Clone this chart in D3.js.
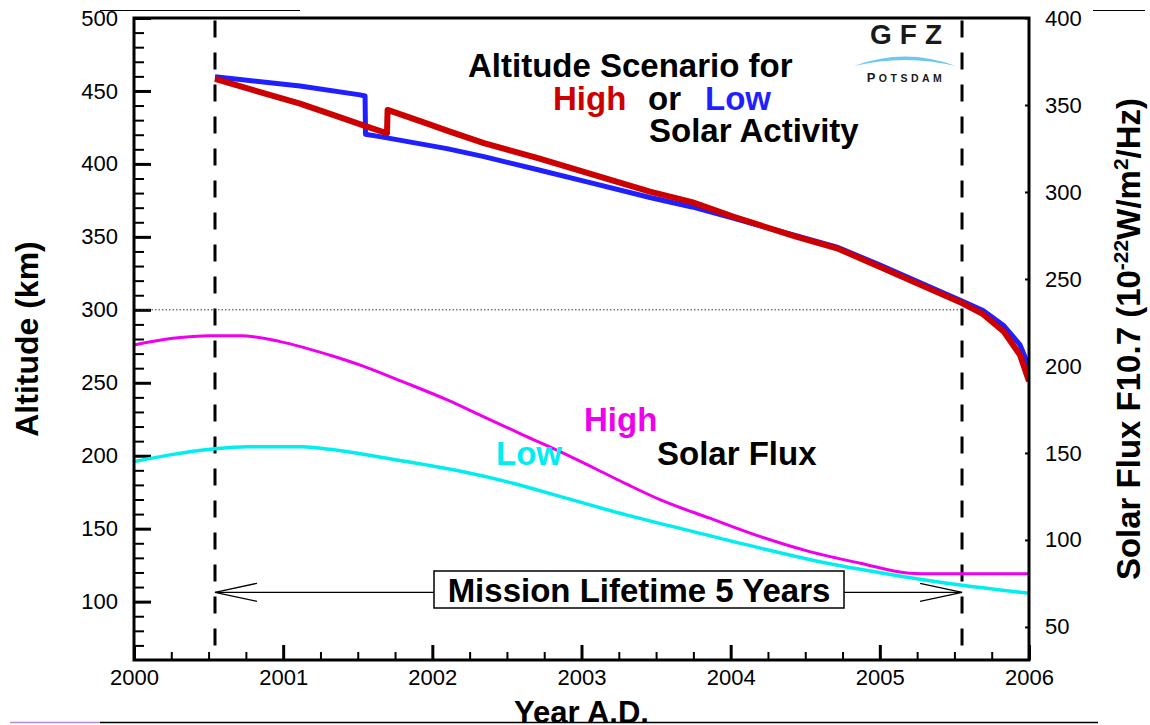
<!DOCTYPE html>
<html>
<head>
<meta charset="utf-8">
<script src="https://cdn.jsdelivr.net/npm/d3@7"></script>
<style>
  body { margin: 0; background: #fff; }
  svg { display: block; font-family: "Liberation Sans", Arial, Helvetica, sans-serif; }
</style>
</head>
<body>
<div id="chart"></div>
<script>
// altitude scenarios [year, km]
var altLow = [
  [2000.543, 459.8], [2001.113, 453.4], [2001.515, 447.3], [2001.549, 446.5],
  [2001.552, 420.3], [2001.649, 418.7], [2002.098, 410.5], [2002.346, 405.0],
  [2002.708, 396.0], [2003.044, 387.5], [2003.459, 377.0], [2003.741, 370.5],
  [2004.016, 362.8], [2004.438, 350.8], [2004.713, 343.0], [2004.994, 331.0],
  [2005.272, 318.5], [2005.551, 306.0], [2005.692, 299.5], [2005.832, 289.0],
  [2005.940, 276.0], [2006.0, 261.0]
];
var altHigh = [
  [2000.543, 458.2], [2001.113, 441.3], [2001.334, 433.6], [2001.562, 425.6],
  [2001.696, 421.0], [2001.700, 437.0], [2001.928, 429.0], [2002.118, 422.1],
  [2002.346, 414.2], [2002.708, 403.9], [2003.044, 393.6], [2003.459, 381.0],
  [2003.741, 373.8], [2004.016, 363.9], [2004.438, 350.2], [2004.713, 342.2],
  [2004.994, 329.7], [2005.272, 317.1], [2005.551, 304.6], [2005.692, 297.0],
  [2005.832, 285.0], [2005.940, 269.0], [2006.0, 251.0]
];
// solar flux F10.7 [year, sfu]
var fluxHigh = [
  [2000.0, 212.1], [2000.26, 215.9], [2000.51, 217.4], [2000.71, 217.4],
  [2000.98, 214.0], [2001.31, 206.3], [2001.54, 199.8], [2001.80, 191.0],
  [2002.10, 180.5], [2002.32, 171.8], [2002.61, 160.3], [2002.86, 150.6],
  [2003.08, 141.5], [2003.30, 132.2], [2003.53, 123.0], [2003.86, 112.5],
  [2004.20, 101.9], [2004.53, 93.3], [2004.87, 86.6], [2005.20, 80.9],
  [2005.35, 80.6], [2006.0, 80.6]
];
var fluxLow = [
  [2000.0, 145.0], [2000.24, 148.9], [2000.53, 152.3], [2000.76, 153.6],
  [2001.13, 153.6], [2001.31, 152.1], [2001.76, 146.0], [2002.20, 139.3],
  [2002.54, 132.6], [2002.86, 124.9], [2003.30, 114.4], [2003.75, 104.8],
  [2004.20, 95.3], [2004.65, 86.6], [2005.09, 79.9], [2005.54, 74.1],
  [2006.0, 69.4]
];
var missionStart = 2000.543, missionEnd = 2005.551;
var arrowLevel = 106.4;   // km
var refAltitude = 300;    // km, dotted line

var yearTicks = [2000, 2001, 2002, 2003, 2004, 2005, 2006];
var altTicks = [100, 150, 200, 250, 300, 350, 400, 450, 500];
var fluxTicks = [50, 100, 150, 200, 250, 300, 350, 400];

var width = 1150, height = 725;
var pL = 134, pR = 1029, pT = 18, pB = 660;

var svg = d3.select("#chart").append("svg")
  .attr("width", width)
  .attr("height", height);

var x = d3.scaleLinear().domain([2000, 2006]).range([pL, pR]);
var yAlt = d3.scaleLinear().domain([60, 500]).range([pB, pT]);
var yFlux = d3.scaleLinear().domain([31, 400]).range([pB, pT]);

// minor ticks
var yearMinor = d3.range(2000, 2006.01, 0.25).filter(function(d) { return d % 1 !== 0; });
var altMinor = d3.range(70, 500, 10).filter(function(d) { return d % 50 !== 0; });

svg.append("defs").append("clipPath").attr("id", "plot")
  .append("rect").attr("x", pL).attr("y", pT)
  .attr("width", pR - pL).attr("height", pB - pT);

// page border remnants
svg.append("line").attr("x1", 100).attr("x2", 300).attr("y1", 10.5).attr("y2", 10.5)
  .attr("stroke", "#000").attr("stroke-width", 1);
svg.append("line").attr("x1", 1093).attr("x2", 1145).attr("y1", 10.5).attr("y2", 10.5)
  .attr("stroke", "#000").attr("stroke-width", 1);
svg.append("line").attr("x1", 10).attr("x2", 100).attr("y1", 722.5).attr("y2", 722.5)
  .attr("stroke", "#b48ad0").attr("stroke-width", 1.5);
svg.append("line").attr("x1", 100).attr("x2", 1098).attr("y1", 722.5).attr("y2", 722.5)
  .attr("stroke", "#000").attr("stroke-width", 1.5);

// axes
function styleAxis(g, w) {
  g.select(".domain").remove();
  g.selectAll(".tick line").attr("stroke", "#000").attr("stroke-width", w);
  g.selectAll(".tick text").attr("fill", "#000")
    .style("font-size", "22px");
}

svg.append("g").attr("transform", "translate(" + pL + ",0)")
  .call(d3.axisLeft(yAlt).tickValues(altTicks).tickSize(-17).tickPadding(16))
  .call(styleAxis, 3);
svg.append("g").attr("transform", "translate(" + pL + ",0)")
  .call(d3.axisLeft(yAlt).tickValues(altMinor).tickSize(-10).tickFormat(""))
  .call(styleAxis, 2);

svg.append("g").attr("transform", "translate(0," + pB + ")")
  .call(d3.axisBottom(x).tickValues(yearTicks).tickSize(-15).tickPadding(9).tickFormat(d3.format("d")))
  .call(styleAxis, 3);
svg.append("g").attr("transform", "translate(0," + pB + ")")
  .call(d3.axisBottom(x).tickValues(yearMinor).tickSize(-8).tickFormat(""))
  .call(styleAxis, 2);

svg.append("g").attr("transform", "translate(" + pR + ",0)")
  .call(d3.axisRight(yFlux).tickValues(fluxTicks).tickSize(-4).tickPadding(16))
  .call(styleAxis, 2);

// dotted reference line at 300 km
svg.append("line")
  .attr("x1", pL).attr("x2", x(missionEnd))
  .attr("y1", yAlt(refAltitude)).attr("y2", yAlt(refAltitude))
  .attr("stroke", "#333").attr("stroke-width", 1)
  .attr("stroke-dasharray", "1.5,2");

// mission dashed lines
svg.selectAll(".mission")
  .data([missionStart, missionEnd])
  .enter().append("line")
  .attr("class", "mission")
  .attr("x1", function(d) { return x(d); })
  .attr("x2", function(d) { return x(d); })
  .attr("y1", pT + 2.5).attr("y2", pB)
  .attr("stroke", "#000").attr("stroke-width", 3)
  .attr("stroke-dasharray", "17,15");

// mission lifetime arrow
var ay = yAlt(arrowLevel);
var x0 = x(missionStart), x1 = x(missionEnd);
svg.append("line").attr("x1", x0).attr("x2", x1).attr("y1", ay).attr("y2", ay)
  .attr("stroke", "#000").attr("stroke-width", 1.3);
svg.append("path")
  .attr("d", "M" + (x0 + 42) + "," + (ay - 9) + "L" + x0 + "," + ay + "L" + (x0 + 42) + "," + (ay + 9) +
             "M" + (x1 - 42) + "," + (ay - 9) + "L" + x1 + "," + ay + "L" + (x1 - 42) + "," + (ay + 9))
  .attr("fill", "none").attr("stroke", "#000").attr("stroke-width", 1.3);

svg.append("rect")
  .attr("x", 434).attr("y", 571).attr("width", 410).attr("height", 37)
  .attr("fill", "#fff").attr("stroke", "#000").attr("stroke-width", 1.5);
svg.append("text")
  .attr("x", 639).attr("y", 602)
  .attr("text-anchor", "middle")
  .style("font-size", "33px").style("font-weight", "bold")
  .text("Mission Lifetime 5 Years");

// curves
var plot = svg.append("g").attr("clip-path", "url(#plot)");

var altLine = d3.line()
  .x(function(d) { return x(d[0]); })
  .y(function(d) { return yAlt(d[1]); });
var fluxLine = d3.line()
  .x(function(d) { return x(d[0]); })
  .y(function(d) { return yFlux(d[1]); })
  .curve(d3.curveMonotoneX);

plot.append("path").datum(fluxLow).attr("d", fluxLine)
  .attr("fill", "none").attr("stroke", "#00eeee").attr("stroke-width", 3.5);
plot.append("path").datum(fluxHigh).attr("d", fluxLine)
  .attr("fill", "none").attr("stroke", "#ee00ee").attr("stroke-width", 3);
plot.append("path").datum(altLow).attr("d", altLine)
  .attr("fill", "none").attr("stroke", "#1f1fff").attr("stroke-width", 5)
  .attr("stroke-linejoin", "round");
plot.append("path").datum(altHigh).attr("d", altLine)
  .attr("fill", "none").attr("stroke", "#cc0000").attr("stroke-width", 6)
  .attr("stroke-linejoin", "round");

// frame
svg.append("rect")
  .attr("x", pL).attr("y", pT)
  .attr("width", pR - pL).attr("height", pB - pT)
  .attr("fill", "none").attr("stroke", "#000").attr("stroke-width", 3);

// annotations
function label(xp, yp, str, color) {
  return svg.append("text").attr("x", xp).attr("y", yp)
    .attr("fill", color || "#000")
    .style("font-size", "33px").style("font-weight", "bold")
    .text(str);
}
label(468, 77, "Altitude Scenario for");
label(553, 110, "High", "#cc0000");
label(648, 110, "or");
label(705, 110, "Low", "#1f1fff");
label(649, 142, "Solar Activity");

label(584, 431, "High", "#ee00ee");
label(496, 465, "Low", "#00eeee");
label(657, 465, "Solar Flux");

// axis titles
svg.append("text")
  .attr("transform", "translate(38," + ((pT + pB) / 2) + ") rotate(-90)")
  .attr("text-anchor", "middle")
  .style("font-size", "32px").style("font-weight", "bold")
  .text("Altitude (km)");

var rt = svg.append("text")
  .attr("transform", "translate(1140," + ((pT + pB) / 2) + ") rotate(-90)")
  .attr("text-anchor", "middle")
  .style("font-size", "33px").style("font-weight", "bold");
rt.append("tspan").text("Solar Flux F10.7 (10");
rt.append("tspan").attr("dy", -12).style("font-size", "21px").text("-22");
rt.append("tspan").attr("dy", 12).text("W/m");
rt.append("tspan").attr("dy", -12).style("font-size", "21px").text("2");
rt.append("tspan").attr("dy", 12).text("/Hz)");

svg.append("text")
  .attr("x", (pL + pR) / 2).attr("y", 723)
  .attr("text-anchor", "middle")
  .style("font-size", "31px").style("font-weight", "bold")
  .text("Year A.D.");

// GFZ logo
svg.append("text")
  .attr("x", 910).attr("y", 44)
  .attr("text-anchor", "middle")
  .attr("fill", "#1a1a1a")
  .style("font-size", "28px").style("font-weight", "900")
  .style("letter-spacing", "8px")
  .text("GFZ");
svg.append("path")
  .attr("d", "M854,66 Q905,47 956,66 Q905,54 854,66 Z")
  .attr("fill", "#6cc8ec");
var pt = svg.append("text")
  .attr("x", 906).attr("y", 82)
  .attr("text-anchor", "middle")
  .attr("fill", "#1a1a1a")
  .style("font-weight", "bold")
  .style("letter-spacing", "3.5px");
pt.append("tspan").style("font-size", "13px").text("P");
pt.append("tspan").style("font-size", "10.5px").text("OTSDAM");
</script>
</body>
</html>
